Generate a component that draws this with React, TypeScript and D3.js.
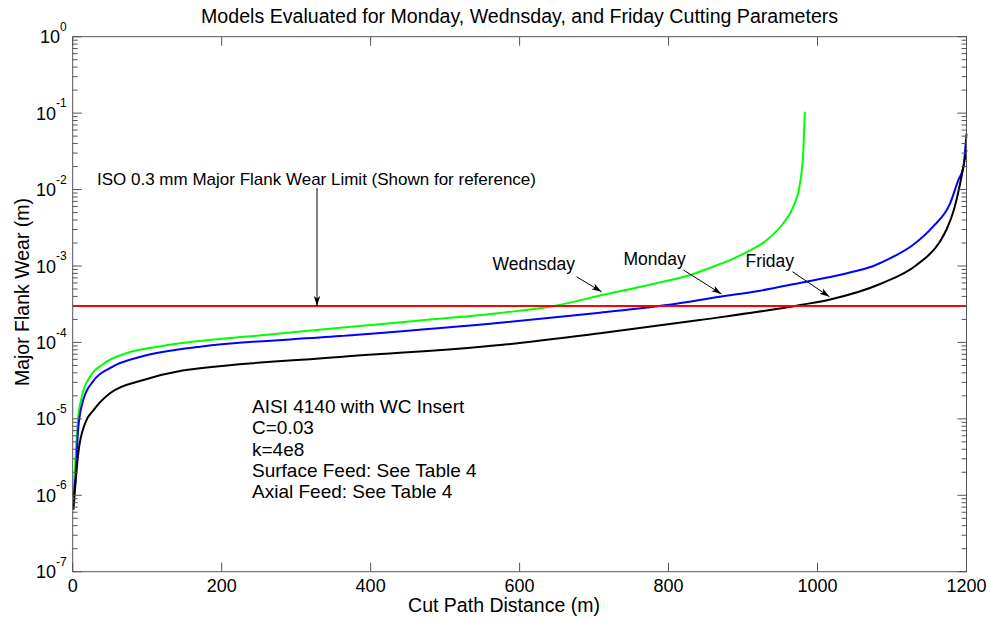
import React from "react";
import * as d3 from "d3";

const W = 990;
const H = 620;
const margin = { top: 36.7, right: 23.5, bottom: 48.3, left: 72.7 };
const FONT = "'Liberation Sans', Arial, Helvetica, sans-serif";

// axis ticks
const xTicks = [0, 200, 400, 600, 800, 1000, 1200];
const yExponents = [-7, -6, -5, -4, -3, -2, -1, 0];

// Monday (blue)
const mondayDist = [1, 3.8, 7.5, 14.2, 27.7, 50, 95, 144, 171, 359, 574, 708, 798, 869, 923, 976, 1034, 1057, 1075, 1093, 1128, 1155, 1178, 1189, 1196, 1198, 1200];
const mondayWear = [9.5e-7, 1.68e-6, 7.6e-6, 1.76e-5, 3.13e-5, 4.62e-5, 6.64e-5, 8.13e-5, 8.8e-5, 1.21e-4, 1.81e-4, 2.45e-4, 3.09e-4, 3.96e-4, 4.75e-4, 6.0e-4, 7.8e-4, 8.85e-4, 1.0e-3, 1.2e-3, 1.88e-3, 3.27e-3, 6.6e-3, 1.33e-2, 2.0e-2, 3.1e-2, 5.4e-2];

// Wednesday (green)
const wednesdayDist = [1, 3.1, 7.1, 12.5, 23, 41, 73, 117, 144, 250, 359, 470, 574, 650, 708, 776, 829, 869, 887, 905, 932, 954, 967.5, 976.5, 981, 983];
const wednesdayWear = [1.0e-6, 2.28e-6, 9.7e-6, 1.99e-5, 3.53e-5, 5.22e-5, 7.28e-5, 8.85e-5, 9.73e-5, 1.23e-4, 1.55e-4, 1.95e-4, 2.43e-4, 3.04e-4, 4.11e-4, 5.73e-4, 7.62e-4, 1.06e-3, 1.25e-3, 1.52e-3, 2.19e-3, 3.62e-3, 5.97e-3, 1.21e-2, 3.3e-2, 0.104];

// Friday (black)
const fridayDist = [1, 7.5, 16.5, 28, 50, 95, 144, 171, 359, 574, 708, 842, 977, 1017, 1084, 1133, 1164, 1173.5, 1183, 1189, 1194, 1200];
const fridayWear = [6.5e-7, 3.57e-6, 8.7e-6, 1.3e-5, 2.16e-5, 3.22e-5, 4.23e-5, 4.58e-5, 6.45e-5, 9.25e-5, 1.32e-4, 1.96e-4, 3.09e-4, 3.65e-4, 5.81e-4, 1.03e-3, 2.06e-3, 3.05e-3, 5.4e-3, 9.3e-3, 1.6e-2, 3.3e-2];

const isoLimit = 3e-4;
const isoArrowDist = 328;

// curve labels with the point their arrows touch
const curveLabels = ["Wednsday", "Monday", "Friday"];
const labelTipDist = [710, 871, 1016];
const labelTipWear = [4.6e-4, 4.3e-4, 3.96e-4];

const infoLines = [
  "AISI 4140 with WC Insert",
  "C=0.03",
  "k=4e8",
  "Surface Feed: See Table 4",
  "Axial Feed: See Table 4",
];

export default function App() {
  const x = d3.scaleLinear().domain([0, 1200]).range([margin.left, W - margin.right]);
  const y = d3.scaleLog().domain([1e-7, 1]).range([H - margin.bottom, margin.top]);

  const line = d3
    .line<[number, number]>()
    .x((d) => x(d[0]))
    .y((d) => y(d[1]))
    .curve(d3.curveMonotoneX);

  const series = [
    { dist: wednesdayDist, wear: wednesdayWear, color: "#00ff00" },
    { dist: mondayDist, wear: mondayWear, color: "#0000ff" },
    { dist: fridayDist, wear: fridayWear, color: "#000000" },
  ];

  const minorTicks: number[] = [];
  for (let e = -7; e < 0; e++) for (let m = 2; m <= 9; m++) minorTicks.push(m * Math.pow(10, e));

  const x0 = margin.left, x1 = W - margin.right;
  const y0 = margin.top, y1 = H - margin.bottom;
  const axisColor = "#555";

  // text / arrow offsets from each arrow tip (px)
  const tailOff = [[-25, -15], [-38, -24], [-37, -25]];
  const textOff = [[-109, -22], [-98, -29], [-84, -30]];

  return (
    <svg width={W} height={H} style={{ position: "absolute", left: 0, top: 0, background: "#fff" }} fontFamily={FONT}>
      <defs>
        <marker id="arr" markerUnits="userSpaceOnUse" markerWidth="12" markerHeight="8" refX="10" refY="4" orient="auto">
          <path d="M0,0.8 L10,4 L0,7.2 L2.5,4 Z" fill="#000" />
        </marker>
      </defs>
      <rect x={0} y={0} width={W} height={H} fill="#fff" />

      <text x={(x0 + x1) / 2} y={23} textAnchor="middle" fontSize={19.6}>
        Models Evaluated for Monday, Wednsday, and Friday Cutting Parameters
      </text>

      {/* curves */}
      {series.map((s, i) => (
        <path
          key={i}
          d={line(s.dist.map((d, j) => [d, s.wear[j]] as [number, number])) || ""}
          fill="none"
          stroke={s.color}
          strokeWidth={2}
        />
      ))}
      <line x1={x(0)} x2={x(1200)} y1={y(isoLimit)} y2={y(isoLimit)} stroke="#ff0000" strokeWidth={2} />

      {/* box + ticks */}
      <rect x={x0} y={y0} width={x1 - x0} height={y1 - y0} fill="none" stroke={axisColor} strokeWidth={1} />
      {xTicks.map((t) => (
        <g key={"x" + t}>
          <line x1={x(t)} x2={x(t)} y1={y1} y2={y1 - 9} stroke={axisColor} />
          <line x1={x(t)} x2={x(t)} y1={y0} y2={y0 + 9} stroke={axisColor} />
          <text x={x(t)} y={y1 + 20} textAnchor="middle" fontSize={18}>{t}</text>
        </g>
      ))}
      {yExponents.map((e) => {
        const v = Math.pow(10, e);
        return (
          <g key={"y" + e}>
            <line x1={x0} x2={x0 + 9} y1={y(v)} y2={y(v)} stroke={axisColor} />
            <line x1={x1} x2={x1 - 9} y1={y(v)} y2={y(v)} stroke={axisColor} />
            <text x={x0 - 6} y={y(v) + 6.6} textAnchor="end" fontSize={18}>
              10<tspan fontSize={12} dy={-12.5}>{e}</tspan>
            </text>
          </g>
        );
      })}
      {minorTicks.map((v, i) => (
        <g key={"m" + i}>
          <line x1={x0} x2={x0 + 5} y1={y(v)} y2={y(v)} stroke={axisColor} />
          <line x1={x1} x2={x1 - 5} y1={y(v)} y2={y(v)} stroke={axisColor} />
        </g>
      ))}

      <text x={504} y={612} textAnchor="middle" fontSize={19.5}>Cut Path Distance (m)</text>
      <text transform="translate(29,292) rotate(-90)" textAnchor="middle" fontSize={19.5}>
        Major Flank Wear (m)
      </text>

      {/* ISO annotation */}
      <text x={97} y={185} fontSize={17}>ISO 0.3 mm Major Flank Wear Limit (Shown for reference)</text>
      <line x1={x(isoArrowDist)} x2={x(isoArrowDist)} y1={188} y2={y(isoLimit)} stroke="#000" strokeWidth={1} markerEnd="url(#arr)" />

      {/* curve labels */}
      {curveLabels.map((lab, i) => {
        const tx = x(labelTipDist[i]);
        const ty = y(labelTipWear[i]);
        return (
          <g key={lab}>
            <text x={tx + textOff[i][0]} y={ty + textOff[i][1]} fontSize={17.5}>{lab}</text>
            <line x1={tx + tailOff[i][0]} y1={ty + tailOff[i][1]} x2={tx} y2={ty} stroke="#000" strokeWidth={1} markerEnd="url(#arr)" />
          </g>
        );
      })}

      {/* model info */}
      <text x={252} y={413} fontSize={19}>
        {infoLines.map((l, i) => (
          <tspan key={i} x={252} dy={i === 0 ? 0 : 21.3}>{l}</tspan>
        ))}
      </text>
    </svg>
  );
}
